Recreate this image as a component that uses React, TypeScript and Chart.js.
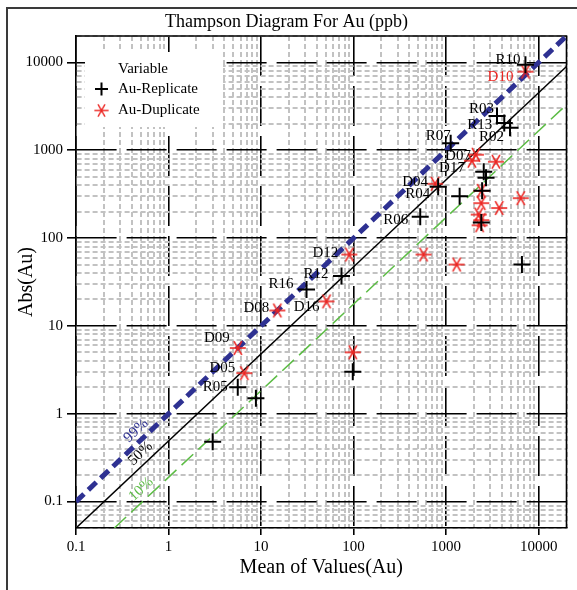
import React, { useEffect, useRef } from 'react';
import { Chart, registerables } from 'chart.js';

Chart.register(...registerables);

// ---------- text ----------
const chartTitle = 'Thampson Diagram For Au (ppb)';
const xAxisTitle = 'Mean of Values(Au)';
const yAxisTitle = 'Abs(Au)';
const legendTitle = 'Variable';

// ---------- Au-Replicate ----------
const replicateName = 'Au-Replicate';
const replicateLabels = ['R10', 'R03', 'R13', 'R02', 'R07', '', '', '', 'R04', '', 'R06', '', '', 'R12', 'R16', '', 'R05', '', ''];
const replicateMean = [7200, 3550, 4250, 4900, 1120, 2550, 2700, 2450, 820, 1400, 525, 2400, 6600, 74, 31, 98, 5.6, 8.8, 3.0];
const replicateAbs = [9400, 2450, 2050, 1800, 1200, 570, 485, 345, 385, 300, 175, 150, 50, 37, 26, 3.0, 2.0, 1.5, 0.48];

// ---------- Au-Duplicate ----------
const duplicateName = 'Au-Duplicate';
const duplicateLabels = ['D10', 'D07', 'D17', '', 'D04', '', '', '', '', '', '', '', '', '', 'D12', 'D08', 'D16', '', 'D09', 'D05'];
const duplicateMean = [7200, 2100, 1900, 3450, 760, 2400, 6400, 3750, 2400, 2250, 2400, 2300, 570, 1300, 90, 15, 51, 98, 5.6, 6.6];
const duplicateAbs = [7850, 890, 760, 740, 415, 345, 285, 220, 250, 185, 160, 140, 65, 50, 65, 15, 19, 5.0, 5.6, 2.9];

// ---------- precision reference lines ----------
const line99Mean = [0.1, 20000];
const line99Abs = [0.1, 20000];
const line50Mean = [0.1, 20000];
const line50Abs = [0.05, 9000];
const line10Mean = [0.26, 20000];
const line10Abs = [0.05, 3300];
const lineNames = ['99%', '50%', '10%'];

// ---------- axes ----------
const xTickLabels = ['0.1', '1', '10', '100', '1000', '10000'];
const yTickLabels = ['0.1', '1', '10', '100', '1000', '10000'];
const xRange = [0.1, 20000];
const yRange = [0.05, 20000];

// ---------- style ----------
const FONT = '"Liberation Serif", "Times New Roman", serif';
const RED = '#ec2622';
const BLUE = '#2e3192';
const GREEN = '#5cbc45';
const MINOR = '#c2c2c2';
const redLabels = ['D10'];
const labelNudge: Record<string, [number, number]> = {
  R10: [-5, -5], D10: [-12, 5], R03: [-3, -7], R13: [-12, 2], R02: [-6, 9], R07: [0, -7],
  D07: [-5, 1], D17: [-7, 7], D04: [-7, -2], R04: [-8, 7], R06: [-12, 3], D12: [-11, -1],
  R12: [-13, -2], R16: [-13, -5], D08: [-8, -2], D16: [-7, 6], D09: [-8, -10], D05: [-9, -5], R05: [-10, 0],
};
const lineLabelAnchor = [0.53, 0.59, 0.6];
const lineLabelColor = [BLUE, '#000', GREEN];

function logTicks(min: number, max: number): number[] {
  const out: number[] = [];
  for (let e = Math.floor(Math.log10(min)); e <= Math.ceil(Math.log10(max)); e++) {
    for (let m = 1; m <= 9; m++) {
      const v = m * Math.pow(10, e);
      if (v >= min * (1 - 1e-9) && v <= max * (1 + 1e-9)) out.push(v);
    }
  }
  if (Math.abs(out[out.length - 1] - max) / max > 1e-9) out.push(max);
  return out;
}

function labelFor(v: number, labels: string[]): string {
  const hit = labels.find((l) => Math.abs(parseFloat(l) - v) / v < 1e-6);
  return hit ?? '';
}

const isMajor = (v: number | undefined, labels: string[]) => v !== undefined && labelFor(v, labels) !== '';

function makeAsterisk(): HTMLCanvasElement {
  const c = document.createElement('canvas');
  c.width = 18;
  c.height = 18;
  const g = c.getContext('2d')!;
  g.strokeStyle = RED;
  g.lineWidth = 1.6;
  for (const deg of [0, 60, 120]) {
    const r = (deg * Math.PI) / 180;
    g.beginPath();
    g.moveTo(9 - 8 * Math.cos(r), 9 - 8 * Math.sin(r));
    g.lineTo(9 + 8 * Math.cos(r), 9 + 8 * Math.sin(r));
    g.stroke();
  }
  return c;
}

function axisOptions(range: number[], labels: string[], isX: boolean, title: string) {
  const major = (c: any) => isMajor(c && c.tick ? c.tick.value : undefined, labels);
  return {
    type: 'logarithmic' as const,
    position: isX ? 'bottom' : 'left',
    min: range[0],
    max: range[1],
    afterBuildTicks: (s: any) => {
      s.ticks = logTicks(range[0], range[1]).map((v) => ({ value: v }));
    },
    afterFit: (s: any) => {
      if (isX) s.height = 62;
      else s.width = 76;
    },
    ticks: {
      autoSkip: false,
      maxRotation: 0,
      minRotation: 0,
      padding: isX ? 3 : 4,
      color: '#000',
      font: { family: FONT, size: 15 },
      callback: (v: any) => labelFor(Number(v), labels),
    },
    grid: {
      drawTicks: true,
      tickLength: isX ? 7 : 9,
      color: (c: any) => (major(c) ? '#000' : MINOR),
      lineWidth: (c: any) => (major(c) ? 1.6 : 2),
      tickColor: (c: any) => (major(c) ? '#000' : 'rgba(0,0,0,0)'),
      tickWidth: 1.6,
    },
    border: {
      display: true,
      color: '#000',
      width: 1.6,
      dash: (c: any) => (c && c.tick ? (major(c) ? [40, 10] : [5, 3]) : []),
    },
    title: {
      display: true,
      text: title,
      color: '#000',
      font: { family: FONT, size: 20 },
      padding: isX ? { top: 0, bottom: 10 } : { top: 15, bottom: 0 },
    },
  };
}

const decorPlugin = {
  id: 'decor',
  beforeDraw(chart: any) {
    const ctx = chart.ctx;
    ctx.save();
    ctx.fillStyle = '#fff';
    ctx.fillRect(0, 0, chart.width, chart.height);
    ctx.strokeStyle = '#3a3a3a';
    ctx.lineWidth = 2;
    ctx.beginPath();
    ctx.moveTo(7, chart.height);
    ctx.lineTo(7, 8);
    ctx.lineTo(chart.width, 8);
    ctx.stroke();
    ctx.restore();
  },
  beforeDatasetsDraw(chart: any) {
    const ctx = chart.ctx;
    const a = chart.chartArea;
    ctx.save();
    // legend panel
    ctx.fillStyle = '#fff';
    ctx.fillRect(a.left + 9, a.top + 16, 138, 75);
    ctx.fillStyle = '#000';
    ctx.font = `15px ${FONT}`;
    ctx.textAlign = 'left';
    ctx.textBaseline = 'middle';
    ctx.fillText(legendTitle, a.left + 42, a.top + 33);
    const rows = [a.top + 53, a.top + 74.5];
    [0, 1].forEach((di) => {
      const ds = chart.data.datasets[di];
      const y = rows[di];
      const x = a.left + 25.5;
      if (ds.pointStyle === 'cross') {
        ctx.strokeStyle = '#000';
        ctx.lineWidth = 2;
        ctx.beginPath();
        ctx.moveTo(x - 6.5, y);
        ctx.lineTo(x + 6.5, y);
        ctx.moveTo(x, y - 6.5);
        ctx.lineTo(x, y + 6.5);
        ctx.stroke();
      } else {
        const img = ds.pointStyle as HTMLCanvasElement;
        ctx.drawImage(img, x - 8, y - 8, 16, 16);
      }
      ctx.fillStyle = '#000';
      ctx.fillText(ds.label, a.left + 42, y);
    });
    // top and right frame of the plot
    ctx.strokeStyle = '#000';
    ctx.lineWidth = 1.6;
    ctx.beginPath();
    ctx.moveTo(a.left, a.top);
    ctx.lineTo(a.right, a.top);
    ctx.lineTo(a.right, a.bottom);
    ctx.stroke();
    ctx.restore();
  },
  afterDatasetsDraw(chart: any) {
    const ctx = chart.ctx;
    const xs = chart.scales.x;
    const ys = chart.scales.y;
    ctx.save();
    ctx.font = `15px ${FONT}`;
    // point labels
    chart.data.datasets.forEach((ds: any, di: number) => {
      const names: string[] | undefined = ds.pointNames;
      if (!names) return;
      const meta = chart.getDatasetMeta(di);
      meta.data.forEach((el: any, i: number) => {
        const name = names[i];
        if (!name) return;
        const [dx, dy] = labelNudge[name] ?? [-8, -3];
        ctx.fillStyle = redLabels.includes(name) ? RED : '#000';
        ctx.textAlign = 'right';
        ctx.textBaseline = 'middle';
        ctx.fillText(name, el.x + dx, el.y + dy);
      });
    });
    // reference line labels
    chart.data.datasets.forEach((ds: any) => {
      if (ds.lineIndex === undefined) return;
      const k = ds.lineIndex;
      const d = ds.data;
      const x1 = xs.getPixelForValue(d[0].x);
      const y1 = ys.getPixelForValue(d[0].y);
      const x2 = xs.getPixelForValue(d[1].x);
      const y2 = ys.getPixelForValue(d[1].y);
      const px = xs.getPixelForValue(lineLabelAnchor[k]);
      const t = (px - x1) / (x2 - x1);
      const py = y1 + t * (y2 - y1);
      ctx.save();
      ctx.translate(px, py);
      ctx.rotate(Math.atan2(y2 - y1, x2 - x1));
      ctx.fillStyle = lineLabelColor[k];
      ctx.textAlign = 'center';
      ctx.textBaseline = 'middle';
      ctx.fillText(lineNames[k], 0, -10);
      ctx.restore();
    });
    ctx.restore();
  },
};

export default function App() {
  const ref = useRef<HTMLCanvasElement>(null);

  useEffect(() => {
    const canvas = ref.current;
    if (!canvas) return;
    const asterisk = makeAsterisk();
    const pts = (xs: number[], ys: number[]) => xs.map((x, i) => ({ x, y: ys[i] }));

    const chart = new Chart(canvas, {
      type: 'scatter',
      data: {
        datasets: [
          {
            label: replicateName,
            data: pts(replicateMean, replicateAbs),
            pointNames: replicateLabels,
            pointStyle: 'cross',
            pointRadius: 8.5,
            pointBorderWidth: 2,
            borderColor: '#000',
            backgroundColor: '#000',
            showLine: false,
            order: 0,
          } as any,
          {
            label: duplicateName,
            data: pts(duplicateMean, duplicateAbs),
            pointNames: duplicateLabels,
            pointStyle: asterisk,
            pointRadius: 8,
            borderColor: RED,
            backgroundColor: RED,
            showLine: false,
            order: 1,
          } as any,
          {
            label: lineNames[0],
            data: pts(line99Mean, line99Abs),
            lineIndex: 0,
            showLine: true,
            borderColor: BLUE,
            borderWidth: 5,
            borderDash: [11, 6],
            pointRadius: 0,
            fill: false,
            order: 5,
          } as any,
          {
            label: lineNames[1],
            data: pts(line50Mean, line50Abs),
            lineIndex: 1,
            showLine: true,
            borderColor: '#000',
            borderWidth: 1.5,
            pointRadius: 0,
            fill: false,
            order: 5,
          } as any,
          {
            label: lineNames[2],
            data: pts(line10Mean, line10Abs),
            lineIndex: 2,
            showLine: true,
            borderColor: GREEN,
            borderWidth: 1.5,
            borderDash: [16, 7],
            pointRadius: 0,
            fill: false,
            order: 5,
          } as any,
        ],
      },
      options: {
        responsive: false,
        animation: false,
        events: [],
        layout: { padding: { left: 0, right: 4, top: 0, bottom: 0 } },
        plugins: {
          legend: { display: false },
          tooltip: { enabled: false },
          title: {
            display: true,
            text: chartTitle,
            color: '#000',
            font: { family: FONT, size: 18, weight: 'normal' },
            padding: { top: 11, bottom: 3.4 },
          },
        },
        scales: {
          x: axisOptions(xRange, xTickLabels, true, xAxisTitle) as any,
          y: axisOptions(yRange, yTickLabels, false, yAxisTitle) as any,
        },
      },
      plugins: [decorPlugin as any],
    });
    return () => chart.destroy();
  }, []);

  return (
    <div style={{ position: 'absolute', left: 0, top: 0, width: 577, height: 590 }}>
      <canvas ref={ref} width={577} height={590} style={{ display: 'block', width: 577, height: 590 }} />
    </div>
  );
}
